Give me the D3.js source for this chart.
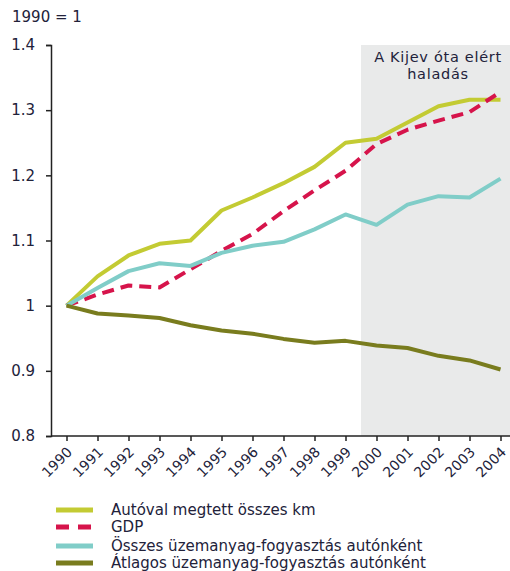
<!DOCTYPE html>
<html>
<head>
<meta charset="utf-8">
<script src="https://cdn.jsdelivr.net/npm/d3@7"></script>
<style>
    body { margin: 0; background: #fff; }
    svg { display: block; }
    text { font-family: "DejaVu Sans", Verdana, sans-serif; fill: #22223a; }
</style>
</head>
<body>
<div id="chart"></div>
<script>
// years on the x axis
var years = [1990, 1991, 1992, 1993, 1994, 1995, 1996, 1997, 1998, 1999, 2000, 2001, 2002, 2003, 2004];
// series, 1990 = 1
var autoKm    = [1.000, 1.045, 1.077, 1.095, 1.100, 1.146, 1.166, 1.188, 1.213, 1.250, 1.256, 1.281, 1.306, 1.316, 1.316];
var gdp       = [1.000, 1.017, 1.031, 1.028, 1.056, 1.084, 1.110, 1.145, 1.177, 1.207, 1.248, 1.270, 1.284, 1.297, 1.328];
var fuelTotal = [1.000, 1.027, 1.053, 1.065, 1.061, 1.081, 1.092, 1.098, 1.117, 1.140, 1.124, 1.155, 1.168, 1.166, 1.195];
var fuelAvg   = [1.000, 0.988, 0.985, 0.981, 0.970, 0.962, 0.957, 0.949, 0.943, 0.946, 0.939, 0.935, 0.923, 0.916, 0.902];
// y axis ticks
var yTicks = [0.8, 0.9, 1, 1.1, 1.2, 1.3, 1.4];
var seriesNames = ["Autóval megtett összes km", "GDP", "Összes üzemanyag-fogyasztás autónként", "Átlagos üzemanyag-fogyasztás autónként"];

(function(){
    var W = 510, H = 571;
    var colors = ["#c3cb33", "#d6144b", "#80cdc8", "#797c1e"];
    var dashes = [null, "12,7", null, null];
    var values = [autoKm, gdp, fuelTotal, fuelAvg];

    var svg = d3.select("#chart").append("svg")
        .attr("width", W)
        .attr("height", H);

    var x = d3.scaleLinear().domain([1989.5, 2004.5]).range([51, 516]);
    var y = d3.scaleLinear().domain([0.8, 1.4]).range([436, 45]);

    // shaded period since Kiev
    svg.append("rect")
        .attr("x", x(1999.5))
        .attr("y", y(1.4))
        .attr("width", W - x(1999.5))
        .attr("height", y(0.8) - y(1.4))
        .attr("fill", "#e9eaea");

    svg.append("text")
        .attr("y", 62)
        .attr("text-anchor", "middle")
        .attr("font-size", "14.5px")
        .attr("letter-spacing", "0.7px")
        .selectAll("tspan")
        .data(["A Kijev óta elért", "haladás"])
        .enter().append("tspan")
        .attr("x", 438)
        .attr("dy", function(d, i){ return i ? 17 : 0; })
        .text(function(d){ return d; });

    // y axis
    var yAxis = svg.append("g")
        .attr("transform", "translate(51,0)")
        .call(d3.axisLeft(y).tickValues(yTicks).tickSize(5).tickPadding(11)
            .tickFormat(function(d){ return d === 1 ? "1" : d3.format(".1f")(d); }));
    yAxis.selectAll("text").attr("font-size", "15px").attr("font-family", null).attr("fill", null);

    // x axis
    var xAxis = svg.append("g")
        .attr("transform", "translate(0," + y(0.8) + ")")
        .call(d3.axisBottom(x).tickValues(years).tickSize(5).tickFormat(d3.format("d")));
    xAxis.select(".domain").attr("d", "M51,0H" + W);
    xAxis.selectAll("text")
        .attr("font-size", "14px").attr("font-family", null).attr("fill", null)
        .attr("text-anchor", "end")
        .attr("x", 0).attr("y", 0).attr("dy", 0)
        .attr("transform", "translate(6,17) rotate(-45)");
    svg.selectAll(".domain, .tick line").attr("stroke", "#222").attr("stroke-width", 1.5);

    svg.append("text")
        .attr("x", 12).attr("y", 22)
        .attr("font-size", "15px")
        .text("1990 = 1");

    // lines
    var line = d3.line()
        .x(function(d, i){ return x(years[i]); })
        .y(function(d){ return y(d); });

    values.forEach(function(v, i){
        svg.append("path")
            .datum(v)
            .attr("d", line)
            .attr("fill", "none")
            .attr("stroke", colors[i])
            .attr("stroke-width", 4)
            .attr("stroke-dasharray", dashes[i])
            .attr("stroke-linejoin", "round");
    });

    // legend
    var rows = [510, 527, 546, 563];
    var leg = svg.selectAll(".leg")
        .data(seriesNames)
        .enter().append("g")
        .attr("class", "leg")
        .attr("transform", function(d, i){ return "translate(56," + rows[i] + ")"; });
    leg.append("line")
        .attr("x1", 0).attr("x2", 37)
        .attr("stroke", function(d, i){ return colors[i]; })
        .attr("stroke-width", 5)
        .attr("stroke-dasharray", function(d, i){ return dashes[i] ? "13,9" : null; });
    leg.append("text")
        .attr("x", 55).attr("dy", "0.35em")
        .attr("font-size", "15px")
        .text(function(d){ return d; });
})();
</script>
</body>
</html>
